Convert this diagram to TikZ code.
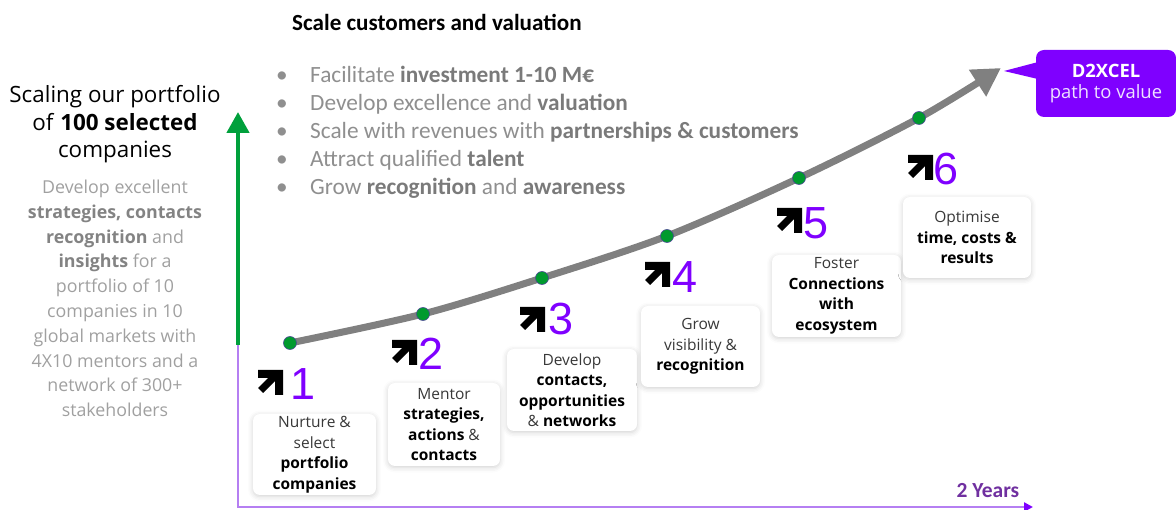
\documentclass[tikz,border=0pt]{standalone}
\usepackage{fontspec}
\setmainfont{Carlito}
\newfontfamily\seg{Open Sans}
\newfontfamily\arl{Liberation Sans}
\usetikzlibrary{arrows.meta,shadows.blur}
\definecolor{agreen}{HTML}{00A03C}
\definecolor{dgreen}{HTML}{009A2E}
\definecolor{vio}{HTML}{7F00FF}
\definecolor{axisvio}{HTML}{B57FF2}
\definecolor{yearsvio}{HTML}{7030A0}
\definecolor{curvegray}{HTML}{808080}
\definecolor{bulgray}{HTML}{8F8F8F}
\definecolor{bulbold}{HTML}{7A7A7A}
\definecolor{pgray}{HTML}{A0A0A0}
\definecolor{pbold}{HTML}{838383}
\definecolor{boxtext}{HTML}{383838}
\definecolor{calltext}{HTML}{EEE2FF}
\newcommand\grbold[1]{\textbf{\color{pbold}#1}}
\newcommand\blbold[1]{\textbf{\color{bulbold}#1}}
\newcommand\blt{\makebox[34pt][l]{\textbullet}}
\begin{document}
\begin{tikzpicture}[x=1pt,y=-1pt,
  stepbox/.style={fill=white, rounded corners=7pt, align=center, inner sep=0pt,
    font=\seg\fontsize{15.5}{20.5}\selectfont, text=boxtext,
    blur shadow={shadow xshift=0pt, shadow yshift=-1.5pt, shadow opacity=18, shadow blur radius=5pt}},
  gdot/.style={circle, fill=dgreen, draw=black!60!blue!70, line width=0.6pt, minimum size=13pt, inner sep=0pt},
  numstyle/.style={font=\arl\fontsize{45}{50}\selectfont, text=vio, inner sep=0pt, anchor=base west},
  upicon/.pic={
    \fill[black] (0,0) -- (25,0) -- (25,25) -- (17,25) -- (17,11) -- (5,23) -- (0,18) -- (10,8) -- (0,8) -- cycle;
  },
  curveline/.style={draw=curvegray, line width=7pt, -{Triangle[length=28pt,width=30pt]}},
  axisline/.style={draw=axisvio, line width=2.5pt, -{Triangle[length=9pt,width=9pt,color=vio]}},
  greenarrow/.style={draw=agreen, line width=4.5pt, -{Triangle[length=21pt,width=22pt]}}
]
\useasboundingbox (0,0) rectangle (1176,510);

% left texts
\node[font=\seg\fontsize{22.4}{27.5}\selectfont, align=center] (title) at (115,124.5)
  {Scaling our portfolio\\of \textbf{100 selected}\\companies};
\node[font=\seg\fontsize{17.8}{24.8}\selectfont, align=center, text=pgray] (para) at (115,298.5)
  {Develop excellent\\\grbold{strategies, contacts}\\\grbold{recognition} and\\\grbold{insights} for a\\portfolio of 10\\companies in 10\\global markets with\\4X10 mentors and a\\network of 300+\\stakeholders};

% header and bullets
\node[font=\bfseries\fontsize{23.1}{26}\selectfont, anchor=west, inner sep=0pt] (head) at (292,22)
  {Scale customers and valuation};
\node[font=\fontsize{23.3}{28}\selectfont, anchor=west, align=left, text=bulgray, inner sep=0pt] (bul) at (276,132)
  {\blt Facilitate \blbold{investment 1-10 M€}\\
   \blt Develop excellence and \blbold{valuation}\\
   \blt Scale with revenues with \blbold{partnerships \& customers}\\
   \blt Attract qualified \blbold{talent}\\
   \blt Grow \blbold{recognition} and \blbold{awareness}};

% axes
\coordinate (o) at (238,345);
\coordinate (corner) at (238,507);
\coordinate (xend) at (1033,507);
\coordinate (gtop) at (238,112);
\draw[axisline] (o) -- (corner) -- (xend);
\draw[greenarrow] (o) -- (gtop);
\node[font=\bfseries\fontsize{21.5}{24}\selectfont, text=yearsvio] (years) at (988,491) {2 Years};

% curve
\coordinate (c1) at (290,343);
\coordinate (c2) at (423,314);
\coordinate (c3) at (542,278);
\coordinate (c4) at (667,236);
\coordinate (c5) at (799,178);
\coordinate (c6) at (919,118);
\coordinate (tipA) at (1001,68);
\draw[curveline] plot[smooth, tension=0.5] coordinates {(c1) (c2) (c3) (c4) (c5) (c6) (tipA)};
\foreach \i in {1,...,6} { \node[gdot] (d\i) at (c\i) {}; }

% callout
\node[fill=vio, rounded corners=8pt, minimum width=140pt, minimum height=67pt, inner sep=0pt,
  align=center, font=\seg\fontsize{18.4}{21.5}\selectfont, text=calltext] (cb) at (1106,83.5)
  {\textbf{\color{white}D2XCEL}\\path to value};
\coordinate (ptip) at (1004,71);
\fill[vio] (ptip) -- (1042,61) -- (1042,80) -- cycle;

% step labels
\pic at (258,370) {upicon};
\node[numstyle] (n1) at (290,400) {1};
\pic at (392,340) {upicon};
\node[numstyle] (n2) at (418,370) {2};
\pic at (520,307) {upicon};
\node[numstyle] (n3) at (548,335) {3};
\pic at (645,262) {upicon};
\node[numstyle] (n4) at (672,293) {4};
\pic at (777,208) {upicon};
\node[numstyle] (n5) at (803,239) {5};
\pic at (908,155) {upicon};
\node[numstyle] (n6) at (933,185) {6};

% boxes
\node[stepbox, minimum width=123pt, minimum height=81pt] (b1) at (314.5,454.5)
  {Nurture \&\\select\\\textbf{\color{black}portfolio}\\\textbf{\color{black}companies}};
\node[stepbox, minimum width=112pt, minimum height=83pt] (b2) at (444,424.5)
  {Mentor\\\textbf{\color{black}strategies,}\\\textbf{\color{black}actions} \&\\\textbf{\color{black}contacts}};
\node[stepbox, minimum width=130pt, minimum height=82pt] (b3) at (572,390)
  {Develop\\\textbf{\color{black}contacts,}\\\textbf{\color{black}opportunities}\\\& \textbf{\color{black}networks}};
\node[stepbox, minimum width=119pt, minimum height=81pt] (b4) at (700.5,346.5)
  {Grow\\visibility \&\\\textbf{\color{black}recognition}};
\node[stepbox, minimum width=129pt, minimum height=82pt] (b5) at (836.5,296)
  {Foster\\\textbf{\color{black}Connections}\\\textbf{\color{black}with}\\\textbf{\color{black}ecosystem}};
\node[stepbox, minimum width=128pt, minimum height=81pt] (b6) at (967,237.5)
  {Optimise\\\textbf{\color{black}time, costs \&}\\\textbf{\color{black}results}};
\end{tikzpicture}
\end{document}
